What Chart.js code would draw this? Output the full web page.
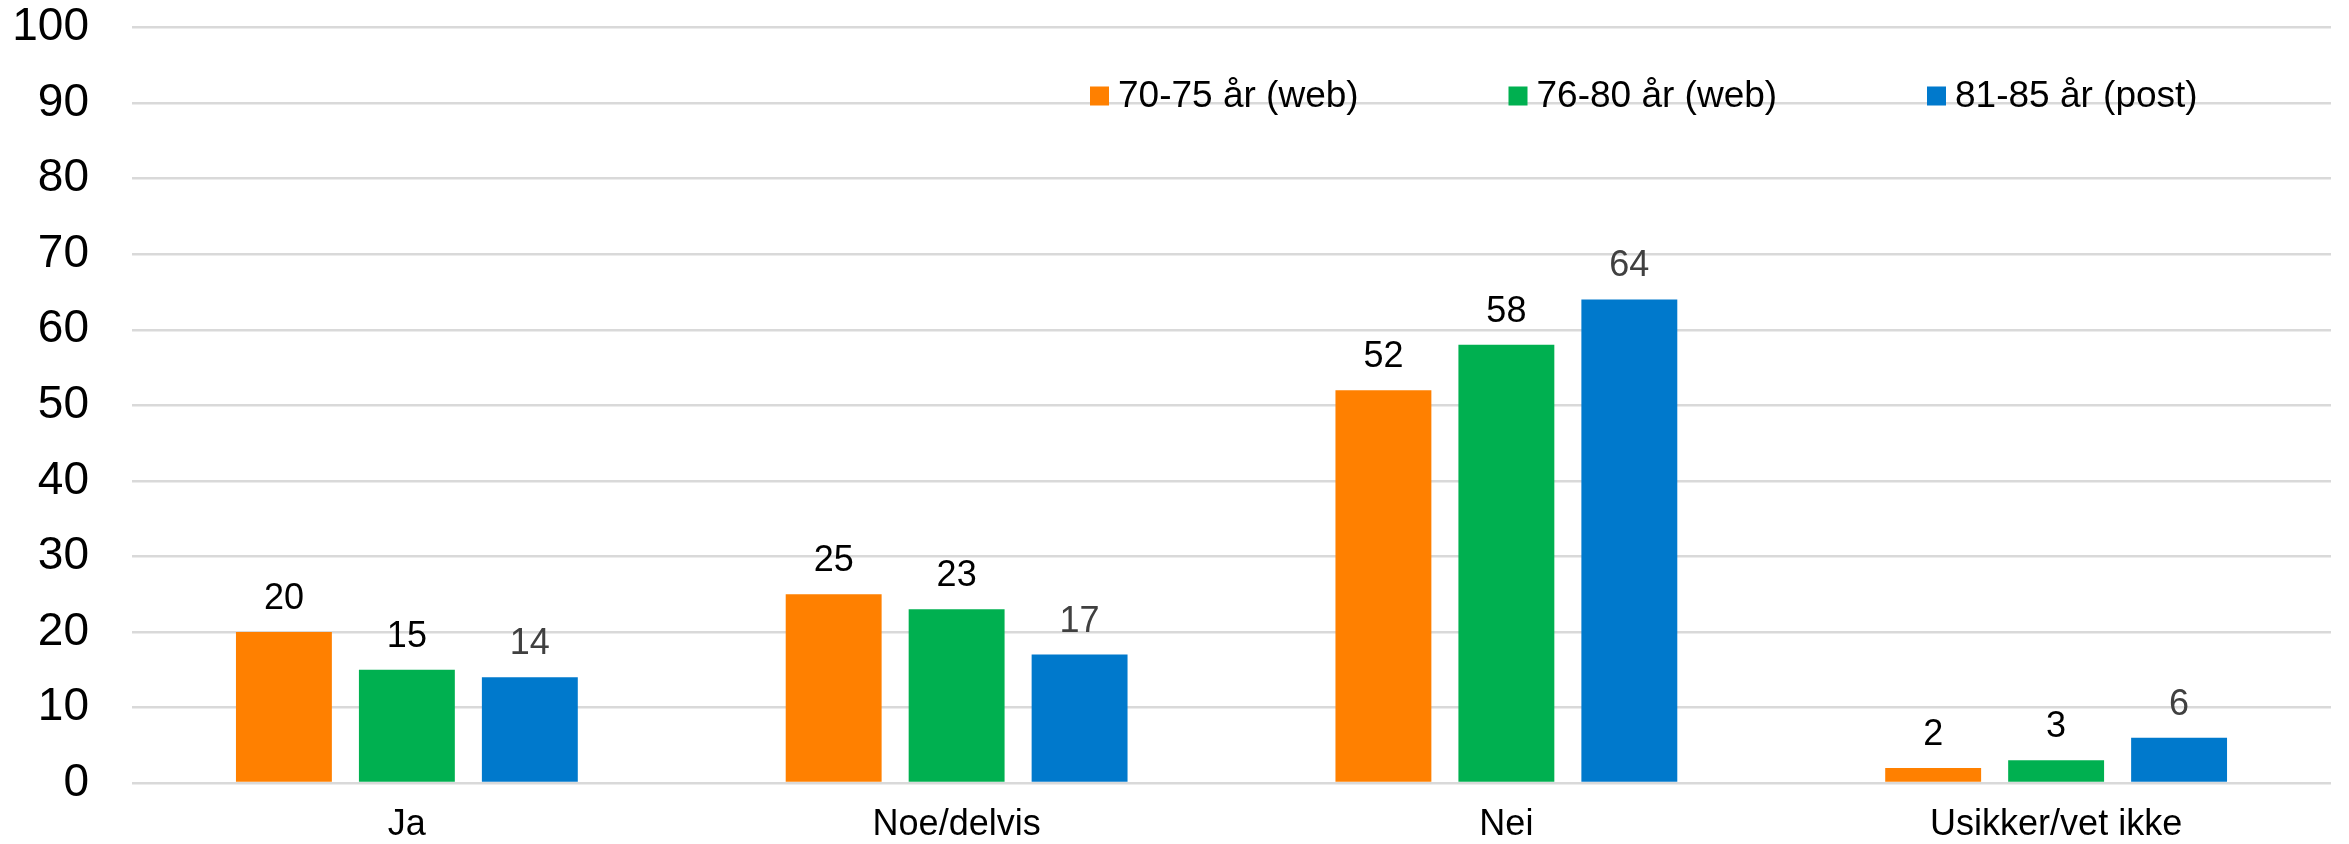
<!DOCTYPE html>
<html>
<head>
<meta charset="utf-8">
<script src="https://cdn.jsdelivr.net/npm/chart.js@4/dist/chart.umd.min.js"></script>
<style>
  html, body { margin: 0; padding: 0; background: #fff; }
  #wrap { width: 2349px; height: 844px; }
</style>
</head>
<body>
<div id="wrap"><canvas id="chart"></canvas></div>
<script>
// Kategorier og verdier (prosent)
const categories = ['Ja', 'Noe/delvis', 'Nei', 'Usikker/vet ikke'];
const seriesNames = ['70-75 år (web)', '76-80 år (web)', '81-85 år (post)'];
const web7075 = [20, 25, 52, 2];
const web7680 = [15, 23, 58, 3];
const post8185 = [14, 17, 64, 6];
const yTicks = [0, 10, 20, 30, 40, 50, 60, 70, 80, 90, 100];

const colors = ['#FF8000', '#00B050', '#0079CC'];
const labelColors = ['#000000', '#000000', '#404040'];
const FONT = "'Liberation Sans', Arial, sans-serif";

// verdier over søylene
const valueLabels = {
  id: 'valueLabels',
  afterDatasetsDraw(chart) {
    const ctx = chart.ctx;
    ctx.save();
    ctx.font = '36px ' + FONT;
    ctx.textAlign = 'center';
    ctx.textBaseline = 'middle';
    chart.data.datasets.forEach((ds, i) => {
      const meta = chart.getDatasetMeta(i);
      ctx.fillStyle = labelColors[i];
      meta.data.forEach((bar, j) => {
        ctx.fillText(String(ds.data[j]), bar.x, bar.y - 33);
      });
    });
    ctx.restore();
  }
};

// legende inne i plottet
const insideLegend = {
  id: 'insideLegend',
  afterDraw(chart) {
    const ctx = chart.ctx;
    const x0 = 1090, step = 418.5, yc = 96, box = 19;
    ctx.save();
    ctx.font = '37px ' + FONT;
    ctx.textBaseline = 'middle';
    ctx.textAlign = 'left';
    chart.data.datasets.forEach((ds, i) => {
      const x = x0 + i * step;
      ctx.fillStyle = ds.backgroundColor;
      ctx.fillRect(x, yc - box / 2, box, box);
      ctx.fillStyle = '#000';
      ctx.fillText(ds.label, x + box + 9, yc + 1);
    });
    ctx.restore();
  }
};

new Chart(document.getElementById('chart'), {
  type: 'bar',
  data: {
    labels: categories,
    datasets: [web7075, web7680, post8185].map((d, i) => ({
      label: seriesNames[i],
      data: d,
      backgroundColor: colors[i],
      categoryPercentage: 0.671,
      barPercentage: 0.78,
    })),
  },
  options: {
    responsive: true,
    maintainAspectRatio: false,
    animation: false,
    devicePixelRatio: 1,
    layout: { padding: { top: 0, right: 18, bottom: 0, left: 0 } },
    plugins: {
      legend: { display: false },
      tooltip: { enabled: false },
    },
    scales: {
      y: {
        min: 0,
        max: 100,
        afterBuildTicks: (s) => { s.ticks = yTicks.map(v => ({ value: v })); },
        afterFit: (s) => { s.width = 132; },
        border: { display: false },
        // usynlige tick-streker gir avstand til tallene uten ekstra topp-padding
        grid: { color: '#D9D9D9', lineWidth: 2.5, drawTicks: true, tickLength: 43, tickColor: 'rgba(0,0,0,0)' },
        ticks: { color: '#000', padding: 0, font: { family: FONT, size: 46 } },
      },
      x: {
        afterFit: (s) => { s.height = 61; },
        border: { display: false },
        grid: { display: false, drawTicks: false },
        ticks: { color: '#000', padding: 20, font: { family: FONT, size: 36 } },
      },
    },
  },
  plugins: [valueLabels, insideLegend],
});
</script>
</body>
</html>
